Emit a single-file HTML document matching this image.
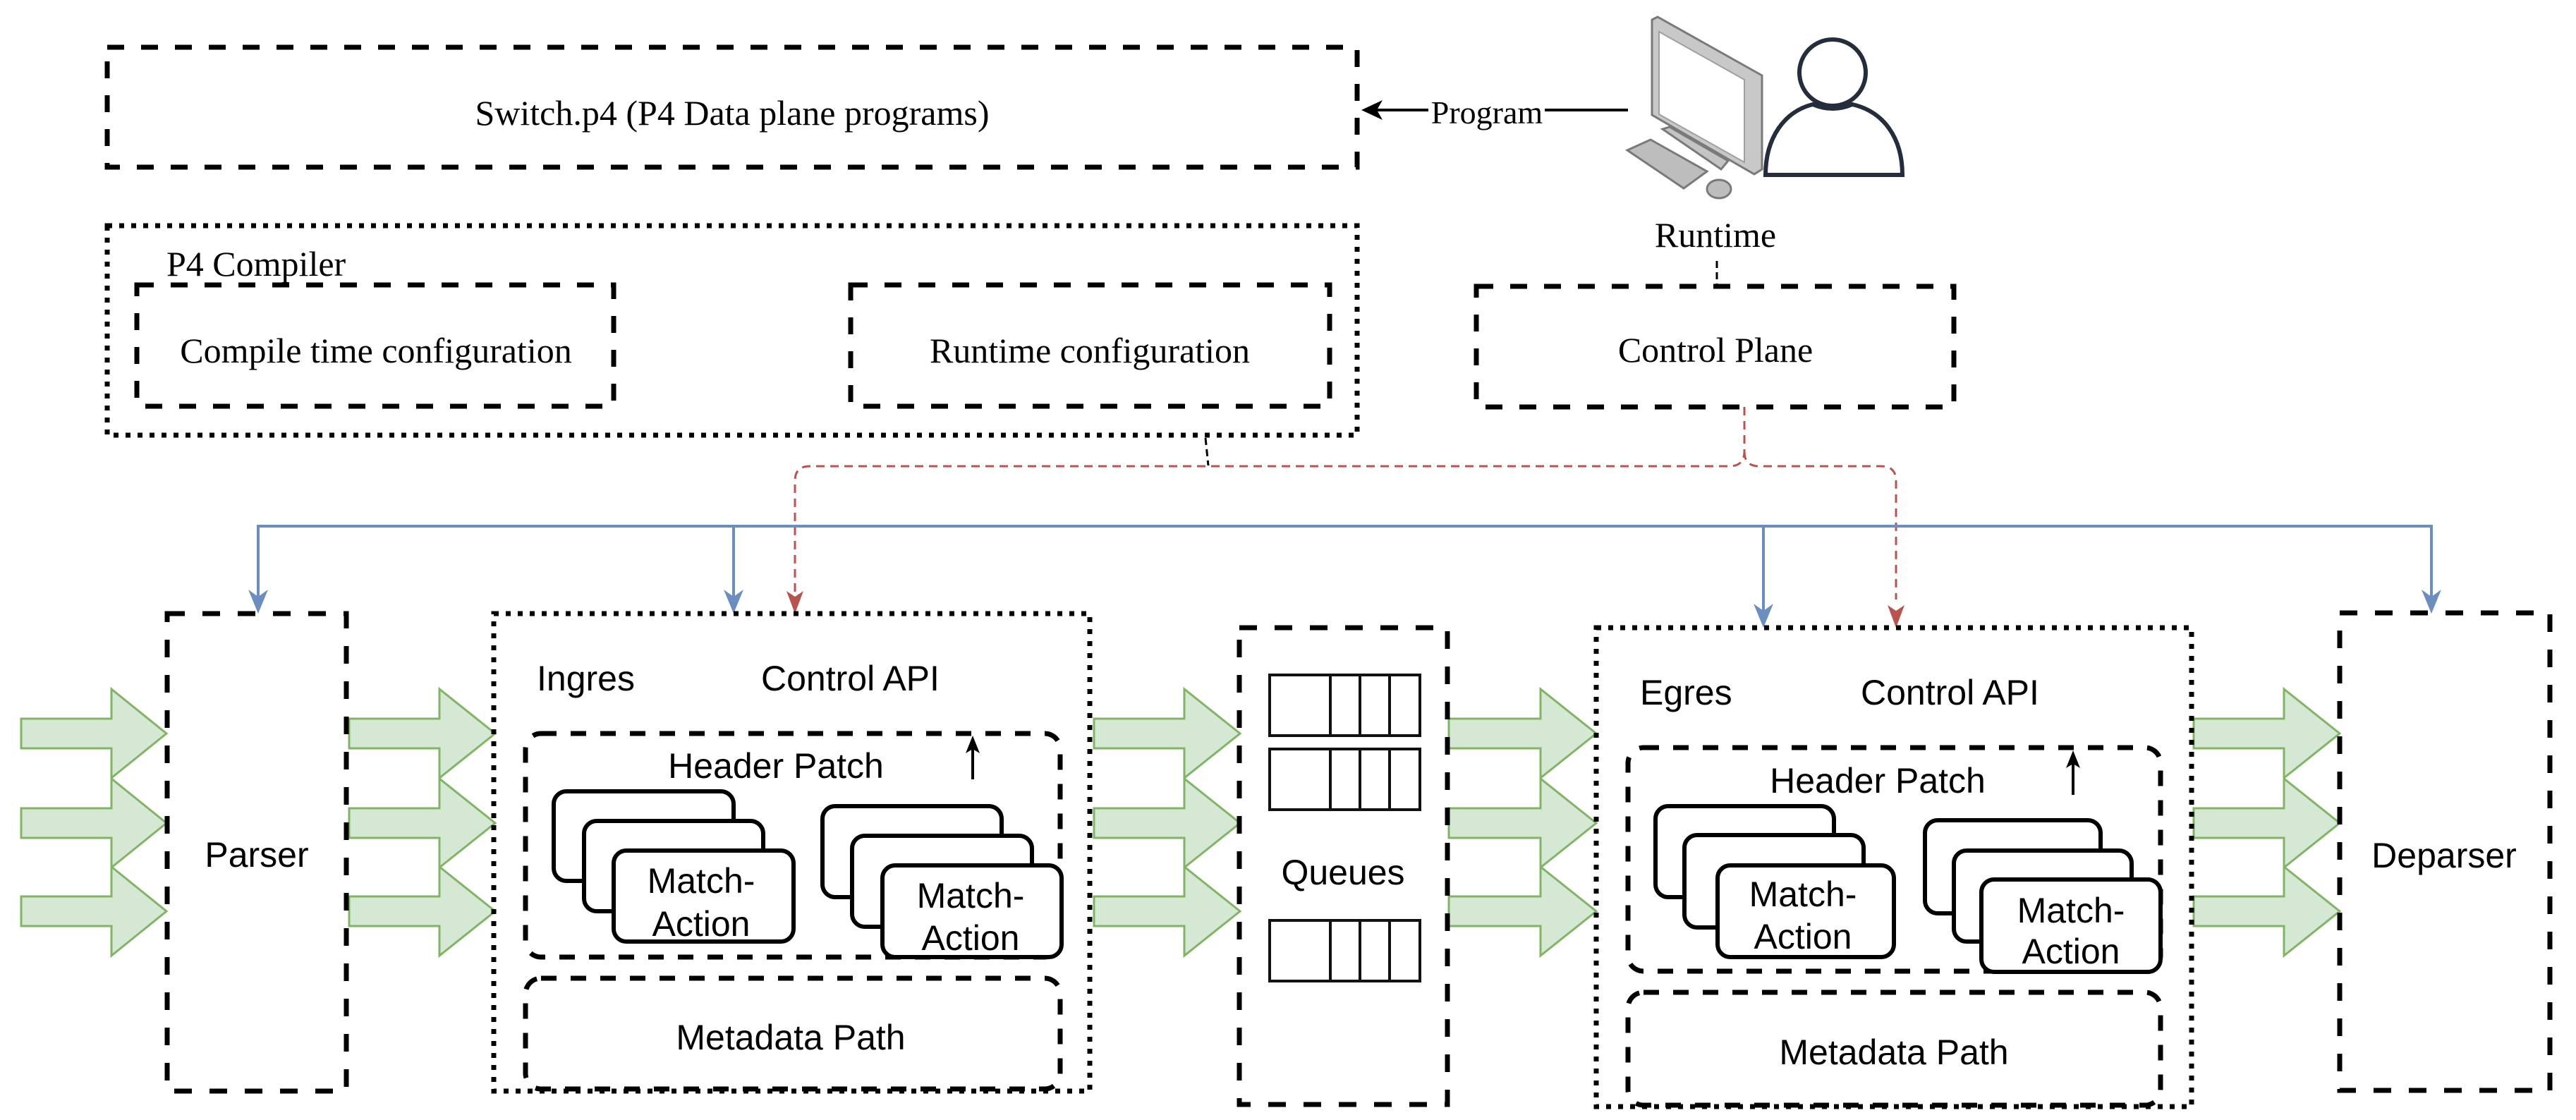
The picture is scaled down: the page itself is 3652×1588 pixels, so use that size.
<!DOCTYPE html>
<html><head><meta charset="utf-8"><style>
html,body{margin:0;padding:0;background:#fff}
svg{display:block}
.serif{font-family:"Liberation Serif",serif;font-size:50px;fill:#000}
.sans{font-family:"Liberation Sans",sans-serif;font-size:50px;fill:#000}
</style></head><body>
<svg width="3652" height="1588" viewBox="0 0 3652 1588" xmlns="http://www.w3.org/2000/svg">
<defs>
<marker id="bl" markerWidth="12" markerHeight="12" refX="9" refY="5" orient="auto" markerUnits="userSpaceOnUse" viewBox="0 0 10 10"><path d="M0,0 L10,5 L0,10 L3,5 Z" fill="#6c8ebf"/></marker>
</defs>

<!-- top boxes -->
<g fill="none" stroke="#000" stroke-width="7">
<rect x="152" y="67" width="1772" height="170" stroke-dasharray="24 24"/>
<rect x="152" y="320" width="1772" height="297" stroke-dasharray="7 10"/>
<rect x="194" y="404" width="676" height="172" stroke-dasharray="24 24"/>
<rect x="1206" y="404" width="679" height="172" stroke-dasharray="24 24"/>
<rect x="2093" y="406" width="677" height="171" stroke-dasharray="24 24"/>
</g>
<text class="serif" x="1038" y="177" text-anchor="middle">Switch.p4 (P4 Data plane programs)</text>
<text class="serif" x="236" y="391">P4 Compiler</text>
<text class="serif" x="533" y="514" text-anchor="middle">Compile time configuration</text>
<text class="serif" x="1545" y="514" text-anchor="middle">Runtime configuration</text>
<text class="serif" x="2432" y="513" text-anchor="middle">Control Plane</text>
<text class="serif" x="2432" y="350" text-anchor="middle">Runtime</text>

<!-- program arrow -->
<line x1="2308" y1="156" x2="1945" y2="156" stroke="#000" stroke-width="4"/>
<path d="M1930,156 L1960,142 L1952,156 L1960,170 Z" fill="#000"/>
<rect x="2025" y="130" width="165" height="50" fill="#fff"/>
<text class="serif" x="2108" y="175" text-anchor="middle" style="font-size:46px">Program</text>

<!-- computer -->
<polygon points="2307,213 2340,198 2420,243 2387,267" fill="#bdbdbd" stroke="#7a7a7a" stroke-width="3"/>
<polygon points="2357,183 2367,180 2450,228 2440,240" fill="#c4c4c4" stroke="#7a7a7a" stroke-width="3"/>
<polygon points="2342,28 2350,24 2498,107 2498,240 2487,247 2342,163" fill="#c8c8c8" stroke="#7a7a7a" stroke-width="3"/>
<polygon points="2352,45 2473,113 2473,230 2352,162" fill="#fff" stroke="#a0a0a0" stroke-width="2"/>
<ellipse cx="2437" cy="268" rx="17" ry="13" fill="#bdbdbd" stroke="#7a7a7a" stroke-width="3"/>
<!-- person -->
<circle cx="2598" cy="103" r="47" fill="#fff" stroke="#232d3b" stroke-width="6"/>
<path d="M2503,248 C2503,195 2530,158 2570,148 Q2598,160 2626,148 C2670,158 2697,195 2697,248 Z" fill="#fff" stroke="#232d3b" stroke-width="6"/>

<!-- runtime to control plane -->
<line x1="2434" y1="370" x2="2434" y2="408" stroke="#000" stroke-width="3" stroke-dasharray="10 6"/>
<!-- compiler small dash -->
<line x1="1709" y1="621" x2="1713" y2="660" stroke="#000" stroke-width="3" stroke-dasharray="10 6"/>

<!-- red dashed -->
<g fill="none" stroke="#b85450" stroke-width="3" stroke-dasharray="12 8">
<path d="M2473,577 L2473,640 Q2473,661 2452,661 L1148,661 Q1127,661 1127,682 L1127,850"/>
<path d="M2473,640 Q2473,661 2494,661 L2667,661 Q2688,661 2688,682 L2688,850"/>
</g>
<path d="M1127,870 L1115,838 L1127,846 L1139,838 Z" fill="#b85450"/>
<path d="M2688,890 L2676,858 L2688,866 L2700,858 Z" fill="#b85450"/>

<!-- blue -->
<g fill="none" stroke="#6c8ebf" stroke-width="4">
<polyline points="366,855 366,746 3447,746 3447,855"/>
<line x1="1040" y1="746" x2="1040" y2="855"/>
<line x1="2500" y1="746" x2="2500" y2="876"/>
</g>
<g fill="#6c8ebf">
<path d="M366,870 L352,836 L366,846 L380,836 Z"/>
<path d="M1040,870 L1026,836 L1040,846 L1054,836 Z"/>
<path d="M2500,890 L2486,856 L2500,866 L2514,856 Z"/>
<path d="M3447,870 L3433,836 L3447,846 L3461,836 Z"/>
</g>

<!-- green arrows -->
<g fill="#d5e8d4" stroke="#82b366" stroke-width="3">
<polygon points="30,1019 158,1019 158,977 236,1040 158,1103 158,1061 30,1061"/>
<polygon points="30,1146 158,1146 158,1104 236,1167 158,1230 158,1188 30,1188"/>
<polygon points="30,1271 158,1271 158,1229 236,1292 158,1355 158,1313 30,1313"/>
<polygon points="495,1019 623,1019 623,977 702,1040 623,1103 623,1061 495,1061"/>
<polygon points="495,1146 623,1146 623,1104 702,1167 623,1230 623,1188 495,1188"/>
<polygon points="495,1271 623,1271 623,1229 702,1292 623,1355 623,1313 495,1313"/>
<polygon points="1551,1019 1679,1019 1679,977 1758,1040 1679,1103 1679,1061 1551,1061"/>
<polygon points="1551,1146 1679,1146 1679,1104 1758,1167 1679,1230 1679,1188 1551,1188"/>
<polygon points="1551,1271 1679,1271 1679,1229 1758,1292 1679,1355 1679,1313 1551,1313"/>
<polygon points="2054,1019 2184,1019 2184,977 2263,1040 2184,1103 2184,1061 2054,1061"/>
<polygon points="2054,1146 2184,1146 2184,1104 2263,1167 2184,1230 2184,1188 2054,1188"/>
<polygon points="2054,1271 2184,1271 2184,1229 2263,1292 2184,1355 2184,1313 2054,1313"/>
<polygon points="3110,1019 3238,1019 3238,977 3317,1040 3238,1103 3238,1061 3110,1061"/>
<polygon points="3110,1146 3238,1146 3238,1104 3317,1167 3238,1230 3238,1188 3110,1188"/>
<polygon points="3110,1271 3238,1271 3238,1229 3317,1292 3238,1355 3238,1313 3110,1313"/>
</g>

<!-- main boxes -->
<g fill="none" stroke="#000" stroke-width="7">
<rect x="237" y="870" width="254" height="677" stroke-dasharray="25 25"/>
<rect x="700" y="870" width="845" height="677" stroke-dasharray="7 10"/>
<rect x="1757" y="890" width="295" height="676" stroke-dasharray="25 25"/>
<rect x="2263" y="890" width="844" height="679" stroke-dasharray="7 10"/>
<rect x="3317" y="869" width="298" height="677" stroke-dasharray="25 25"/>
<rect x="745" y="1040" width="758" height="317" rx="22" stroke-dasharray="22 20"/>
<rect x="745" y="1387" width="758" height="157" rx="22" stroke-dasharray="22 20"/>
<rect x="2308" y="1060" width="755" height="317" rx="22" stroke-dasharray="22 20"/>
<rect x="2308" y="1407" width="755" height="160" rx="22" stroke-dasharray="22 20"/>
</g>

<!-- cards -->
<g fill="#fff" stroke="#000" stroke-width="6">
<rect x="785" y="1122" width="255" height="127" rx="18"/>
<rect x="828" y="1164" width="254" height="128" rx="18"/>
<rect x="870" y="1206" width="255" height="129" rx="18"/>
<rect x="1166" y="1143" width="254" height="129" rx="18"/>
<rect x="1208" y="1185" width="255" height="129" rx="18"/>
<rect x="1251" y="1227" width="254" height="130" rx="18"/>
<rect x="2347" y="1143" width="253" height="129" rx="18"/>
<rect x="2388" y="1184" width="254" height="131" rx="18"/>
<rect x="2435" y="1227" width="250" height="130" rx="18"/>
<rect x="2729" y="1163" width="249" height="132" rx="18"/>
<rect x="2770" y="1206" width="252" height="129" rx="18"/>
<rect x="2809" y="1247" width="254" height="131" rx="18"/>
</g>

<!-- small up arrows -->
<g stroke="#000" stroke-width="4"><line x1="1379" y1="1105" x2="1379" y2="1055"/><line x1="2939" y1="1127" x2="2939" y2="1077"/></g>
<path d="M1379,1043 L1369,1068 L1379,1062 L1389,1068 Z"/>
<path d="M2939,1064 L2929,1089 L2939,1083 L2949,1089 Z"/>

<!-- queues -->
<g fill="#fff" stroke="#111" stroke-width="4">
<rect x="1800" y="957" width="213" height="86"/>
<rect x="1800" y="1062" width="213" height="86"/>
<rect x="1800" y="1305" width="213" height="86"/>
</g>
<g stroke="#111" stroke-width="4">
<path d="M1886,957 V1043 M1928,957 V1043 M1970,957 V1043 M1886,1062 V1148 M1928,1062 V1148 M1970,1062 V1148 M1886,1305 V1391 M1928,1305 V1391 M1970,1305 V1391"/>
</g>

<!-- sans text -->
<g class="sans">
<text x="364" y="1229" text-anchor="middle">Parser</text>
<text x="761" y="979">Ingres</text>
<text x="1079" y="979">Control API</text>
<text x="1100" y="1103" text-anchor="middle">Header Patch</text>
<text x="994" y="1266" text-anchor="middle">Match-</text>
<text x="994" y="1327" text-anchor="middle">Action</text>
<text x="1376" y="1287" text-anchor="middle">Match-</text>
<text x="1376" y="1347" text-anchor="middle">Action</text>
<text x="1121" y="1488" text-anchor="middle">Metadata Path</text>
<text x="1904" y="1254" text-anchor="middle">Queues</text>
<text x="2325" y="999">Egres</text>
<text x="2638" y="999">Control API</text>
<text x="2662" y="1124" text-anchor="middle">Header Patch</text>
<text x="2556" y="1285" text-anchor="middle">Match-</text>
<text x="2556" y="1345" text-anchor="middle">Action</text>
<text x="2936" y="1308" text-anchor="middle">Match-</text>
<text x="2936" y="1366" text-anchor="middle">Action</text>
<text x="2685" y="1509" text-anchor="middle">Metadata Path</text>
<text x="3465" y="1230" text-anchor="middle">Deparser</text>
</g>
</svg>
</body></html>
